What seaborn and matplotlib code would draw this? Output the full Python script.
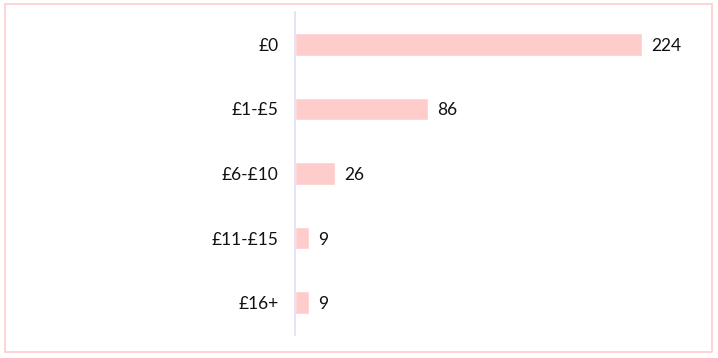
import matplotlib
matplotlib.use("Agg")
import matplotlib.pyplot as plt
import seaborn as sns
import pandas as pd
from matplotlib.patches import Rectangle

categories = ["£0", "£1-£5", "£6-£10", "£11-£15", "£16+"]
values = [224, 86, 26, 9, 9]

df = pd.DataFrame({"cat": categories, "val": values})

sns.set_theme(style="white")
plt.rcParams['font.family'] = ['Lato', 'DejaVu Sans']

fig = plt.figure(figsize=(7.18, 3.58), dpi=100)
W, H = 718, 358
ax = fig.add_axes([295 / W, 1 - 335 / H, (682 - 295) / W, (335 - 12) / H])

sns.barplot(data=df, x="val", y="cat", orient="h", color="#FFCCCC",
            saturation=1, width=0.35, ax=ax)

ax.set_xlim(0, 250)
ax.set_ylim(4.5, -0.5)
ax.set_xlabel("")
ax.set_ylabel("")
ax.set_xticks([])
for s in ["top", "right", "bottom"]:
    ax.spines[s].set_visible(False)
ax.spines["left"].set_color("#E4DDF5")
ax.spines["left"].set_linewidth(1.2)
ax.tick_params(axis="y", length=0, pad=12, labelsize=12.5, labelcolor="#111111")
for lbl in ax.get_yticklabels():
    lbl.set_verticalalignment("center_baseline")

for i, v in enumerate(values):
    ax.text(v + 6, i, str(v), va="center_baseline", ha="left", fontsize=12.5, color="#111111")

fig.patches.append(Rectangle((5 / W, 1 - 352 / H), (712 - 5) / W, (352 - 4) / H,
                             transform=fig.transFigure, fill=False,
                             edgecolor="#FFCCCC", linewidth=1.2))

fig.savefig("out.png", dpi=100)
